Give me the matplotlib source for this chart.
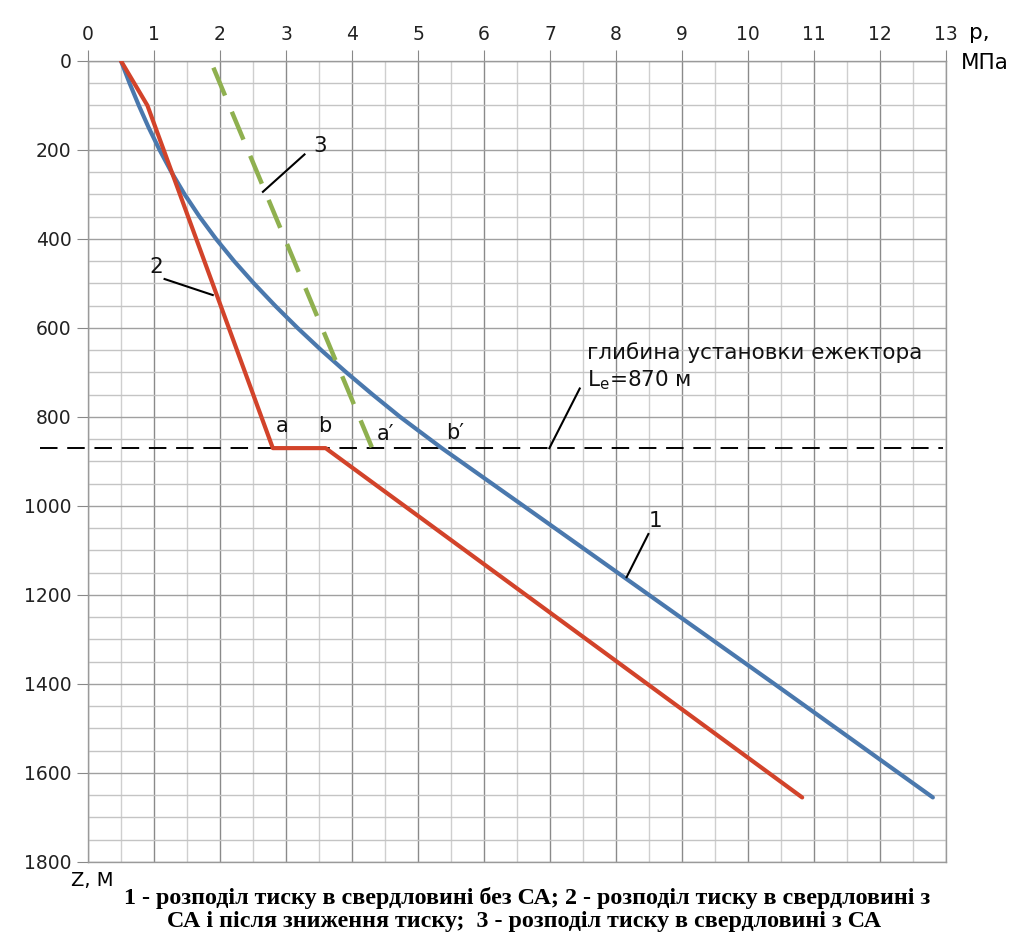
import matplotlib
matplotlib.use("Agg")
import matplotlib.pyplot as plt
import numpy as np
from matplotlib.ticker import MultipleLocator

# ---- data ----
depth_1 = [0, 50, 100, 150, 200, 250, 300, 350, 400, 450, 500, 550, 600, 650,
           700, 750, 800, 870, 1000, 1200, 1400, 1655]
p_1 = [0.5, 0.63, 0.77, 0.92, 1.085, 1.265, 1.465, 1.69, 1.94, 2.215, 2.515,
       2.835, 3.175, 3.535, 3.915, 4.315, 4.73, 5.36, 6.6, 8.5, 10.4, 12.8]

depth_2 = [0, 100, 870, 870, 1655]
p_2 = [0.5, 0.9, 2.8, 3.6, 10.82]

depth_3 = [15, 868]
p_3 = [1.9, 4.3]

ejector_depth = 870
x_ticks = list(range(0, 14))
y_ticks = list(range(0, 1801, 200))

point_labels = ["a", "b", "a\u2032", "b\u2032"]
point_pos = [(2.94, 820), (3.59, 820), (4.5, 838), (5.56, 836)]

# leader annotations: (text, text_pos, line_start, line_end)
leaders = [
    ("1", (8.6, 1033), (8.49, 1063), (8.16, 1160)),
    ("2", (1.04, 462), (1.16, 490), (1.89, 526)),
    ("3", (3.51, 190), (3.28, 210), (2.65, 294)),
]

c_blue = "#4a78ad"
c_red = "#d2432a"
c_green = "#8fb04f"

fig = plt.figure(figsize=(10.21, 9.44), dpi=100)
ax = fig.add_axes([0.0862, 0.0869, 0.9266 - 0.0862, 0.9354 - 0.0869])

ax.set_xlim(0, 13)
ax.set_ylim(1800, 0)
ax.xaxis.tick_top()
ax.set_xticks(x_ticks)
ax.set_yticks(y_ticks)
ax.xaxis.set_minor_locator(MultipleLocator(0.5))
ax.yaxis.set_minor_locator(MultipleLocator(50))
ax.tick_params(axis="both", which="major", length=8, color="#888888",
               labelsize=13.5, labelcolor="#222222", pad=4)
ax.tick_params(axis="both", which="minor", length=0)
ax.grid(True, which="major", axis="x", color="#8a8a8a", lw=1.0)
ax.grid(True, which="minor", axis="x", color="#cfcfcf", lw=1.0)
ax.grid(True, which="major", axis="y", color="#a0a0a0", lw=1.0)
ax.grid(True, which="minor", axis="y", color="#c4c4c4", lw=1.0)
ax.set_axisbelow(True)
for s in ax.spines.values():
    s.set_color("#9a9a9a")
    s.set_linewidth(1.0)

# curves
ax.plot(p_1, depth_1, color=c_blue, lw=3.0, solid_capstyle="round",
        solid_joinstyle="round", zorder=4)
ax.plot(p_2, depth_2, color=c_red, lw=3.0, solid_capstyle="round",
        solid_joinstyle="round", zorder=4)
ax.plot(p_3, depth_3, color=c_green, lw=3.2, dashes=(6.8, 3.95), zorder=4)

# ejector depth line
ax.plot([-0.73, 12.95], [ejector_depth, ejector_depth], color="black", lw=1.4,
        dashes=(9, 5), clip_on=False, zorder=3)
ax.plot([7.45, 6.99], [736, ejector_depth], color="black", lw=1.5, zorder=5)
ax.text(7.56, 655, "глибина установки ежектора", fontsize=15.5,
        ha="left", va="center", color="#111111")
ax.text(7.56, 717, "L$_{\\mathregular{e}}$=870 м", fontsize=15.5,
        ha="left", va="center", color="#111111")

for lbl, (x, y) in zip(point_labels, point_pos):
    ax.text(x, y, lbl, fontsize=15, ha="center", va="center", color="#111111")

for txt, tp, p0, p1 in leaders:
    ax.text(tp[0], tp[1], txt, fontsize=15.5, ha="center", va="center", color="#111111")
    ax.plot([p0[0], p1[0]], [p0[1], p1[1]], color="black", lw=1.5, zorder=5)

# axis titles
fig.text(979 / 1021, 1 - 33 / 944, "p,", fontsize=15.5, ha="center", va="center")
fig.text(985 / 1021, 1 - 63 / 944, "МПа", fontsize=15.5, ha="center", va="center")
fig.text(92 / 1021, 1 - 881 / 944, "Z, М", fontsize=14, ha="center", va="center")

# caption
cap_kw = dict(fontsize=17.3, fontweight="bold", family="Liberation Serif",
              ha="center", va="center")
fig.text(527 / 1021, 1 - 898 / 944,
         "1 - розподіл тиску в свердловині без СА; 2 - розподіл тиску в свердловині з",
         **cap_kw)
fig.text(524 / 1021, 1 - 922 / 944,
         "СА і після зниження тиску;  3 - розподіл тиску в свердловині з СА",
         **cap_kw)

fig.savefig("out.png", dpi=100)
